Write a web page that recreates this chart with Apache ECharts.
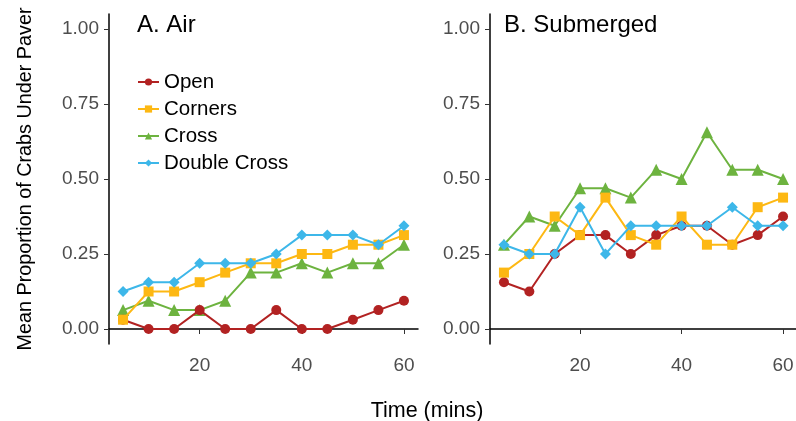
<!DOCTYPE html>
<html>
<head>
<meta charset="utf-8">
<script src="https://cdn.jsdelivr.net/npm/echarts@6/dist/echarts.min.js"></script>
<style>
  html, body { margin: 0; padding: 0; background: #fff; }
  #main { width: 796px; height: 421px; }
</style>
</head>
<body>
<div id="main"></div>
<script>
var chart = echarts.init(document.getElementById("main"));

// minutes after start
var times = [5, 10, 15, 20, 25, 30, 35, 40, 45, 50, 55, 60];

var groups = ["Open", "Corners", "Cross", "Double Cross"];

// A. Air
var airOpen = [0.031, 0, 0, 0.063, 0, 0, 0.063, 0, 0, 0.031, 0.063, 0.094];
var airCorners = [0.031, 0.125, 0.125, 0.156, 0.188, 0.219, 0.219, 0.25, 0.25, 0.281, 0.281, 0.313];
var airCross = [0.063, 0.094, 0.063, 0.063, 0.094, 0.188, 0.188, 0.219, 0.188, 0.219, 0.219, 0.281];
var airDouble = [0.125, 0.156, 0.156, 0.219, 0.219, 0.219, 0.25, 0.313, 0.313, 0.313, 0.281, 0.344];

// B. Submerged
var subOpen = [0.156, 0.125, 0.25, 0.313, 0.313, 0.25, 0.313, 0.344, 0.344, 0.281, 0.313, 0.375];
var subCorners = [0.188, 0.25, 0.375, 0.313, 0.438, 0.313, 0.281, 0.375, 0.281, 0.281, 0.406, 0.438];
var subCross = [0.281, 0.375, 0.344, 0.469, 0.469, 0.438, 0.531, 0.5, 0.656, 0.531, 0.531, 0.5];
var subDouble = [0.281, 0.25, 0.25, 0.406, 0.25, 0.344, 0.344, 0.344, 0.344, 0.406, 0.344, 0.344];

var xTicks = [20, 40, 60];
var yTicks = [0, 0.25, 0.5, 0.75, 1];

var colors = ["#B22222", "#FDB813", "#6DB33F", "#3DB7E9"];
var symbols = ["circle", "rect", "triangle", "diamond"];
var sizes = [10, 10, 12, 11];
var zs = [3, 4, 2, 5];

var font = "Liberation Sans";

function pairs(vals) {
    var result = [];
    for (var i = 0; i < times.length; i++) {
        result.push([times[i], vals[i]]);
    }
    return result;
}

function makeX(idx) {
    return {
        type: "value", gridIndex: idx, min: 2.25, max: 62.75,
        splitLine: { show: false },
        axisLine: { lineStyle: { color: "#000", width: 1.5 } },
        axisTick: { customValues: xTicks, length: 5, lineStyle: { color: "#333" } },
        axisLabel: { customValues: xTicks, margin: 12, color: "#4D4D4D", fontSize: 19, fontFamily: font }
    };
}

function makeY(idx) {
    var ax = {
        type: "value", gridIndex: idx, min: -0.05, max: 1.05,
        splitLine: { show: false },
        axisLine: { show: true, lineStyle: { color: "#000", width: 1.5 } },
        axisTick: { show: true, customValues: yTicks, length: 5, lineStyle: { color: "#333" } },
        axisLabel: {
            customValues: yTicks, margin: 10, color: "#4D4D4D", fontSize: 19, fontFamily: font,
            formatter: function (v) { return v.toFixed(2); }
        }
    };
    if (idx === 0) {
        ax.name = "Mean Proportion of Crabs Under Paver";
        ax.nameLocation = "middle";
        ax.nameGap = 73;
        ax.nameTextStyle = { fontSize: 19.8, color: "#000", fontFamily: font };
    }
    return ax;
}

var panels = [
    [airOpen, airCorners, airCross, airDouble],
    [subOpen, subCorners, subCross, subDouble]
];

var series = [];
for (var p = 0; p < 2; p++) {
    for (var g = 0; g < groups.length; g++) {
        series.push({
            name: groups[g],
            type: "line",
            xAxisIndex: p, yAxisIndex: p,
            data: pairs(panels[p][g]),
            symbol: symbols[g],
            symbolSize: sizes[g],
            showAllSymbol: true,
            z: zs[g],
            color: colors[g],
            lineStyle: { width: 2, color: colors[g] },
            itemStyle: { color: colors[g] },
            emphasis: { disabled: true },
            animation: false
        });
    }
}

option = {
    animation: false,
    title: [
        { text: "A. Air", left: 137, top: 13, padding: 0,
          textStyle: { fontSize: 24, fontWeight: "normal", color: "#000", fontFamily: font } },
        { text: "B. Submerged", left: 504, top: 13, padding: 0,
          textStyle: { fontSize: 24, fontWeight: "normal", color: "#000", fontFamily: font } },
        { text: "Time (mins)", left: 427, top: 400, padding: 0, textAlign: "center",
          textStyle: { fontSize: 21.5, fontWeight: "normal", color: "#000", fontFamily: font } }
    ],
    legend: {
        data: groups,
        orient: "vertical",
        left: 137, top: 71, padding: 0,
        itemWidth: 21, itemHeight: 9, itemGap: 5,
        textStyle: { fontSize: 20.5, color: "#000", fontFamily: font, lineHeight: 22 }
    },
    grid: [
        { left: 109, top: 14, width: 309, height: 330, outerBoundsMode: "none" },
        { left: 490, top: 14, width: 307, height: 330, outerBoundsMode: "none" }
    ],
    xAxis: [makeX(0), makeX(1)],
    yAxis: [makeY(0), makeY(1)],
    series: series
};

chart.setOption(option);
</script>
</body>
</html>
